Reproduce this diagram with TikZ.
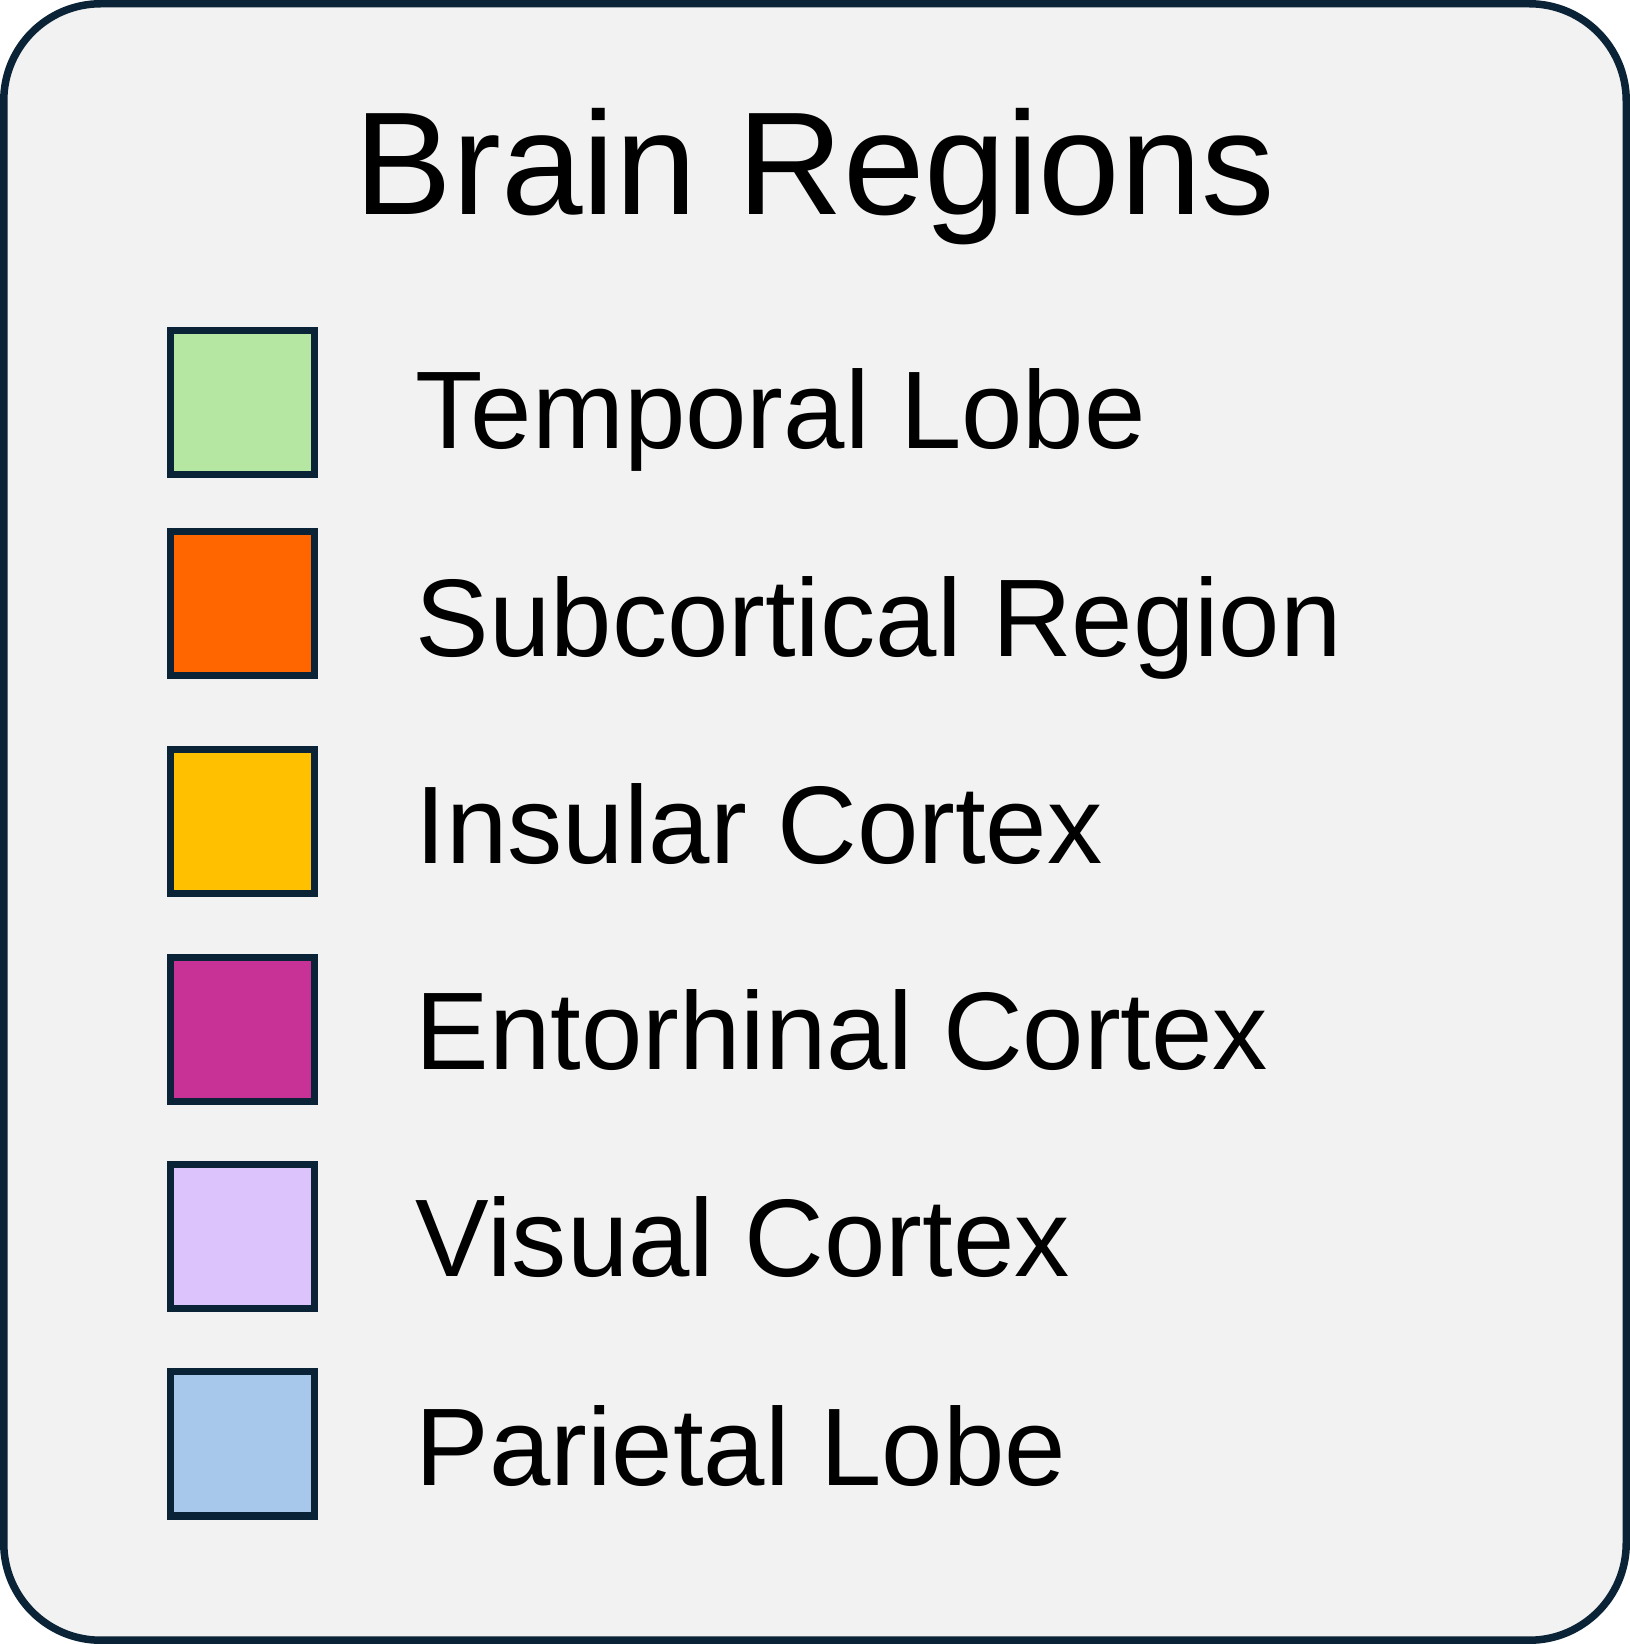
\documentclass[tikz,border=0pt]{standalone}
\usepackage{fontspec}
\setmainfont{Liberation Sans}
\usetikzlibrary{positioning}
\definecolor{framedark}{HTML}{0B2336}
\definecolor{panelgray}{HTML}{F2F2F2}
\definecolor{temporalgreen}{HTML}{B5E6A2}
\definecolor{subcortorange}{HTML}{FF6600}
\definecolor{insulargold}{HTML}{FFC000}
\definecolor{entomagenta}{HTML}{C83296}
\definecolor{visuallilac}{HTML}{DCC3FB}
\definecolor{parietalblue}{HTML}{A7C8EA}

\tikzset{
  swatch/.style={draw=framedark, line width=0.07cm, minimum size=1.44cm, inner sep=0},
  legtext/.style={anchor=base west, inner sep=0, font=\fontsize{31.4}{37}\selectfont}
}

\begin{document}
\begin{tikzpicture}
\useasboundingbox (0,0) rectangle (16.3,16.44);
% Panel
\draw[framedark, fill=panelgray, line width=0.075cm, rounded corners=0.97cm] (0.0375,0.0375) rectangle (16.2625,16.4025);
\node[anchor=base, inner sep=0, font=\fontsize{41.7}{49}\selectfont] (title) at (8.15,14.29) {Brain Regions};

% Legend entries
\node[swatch, fill=temporalgreen] (temporal) at (2.425,12.41) {};
\node[legtext] (temporallbl) at (4.15,11.95) {Temporal Lobe};
\node[swatch, fill=subcortorange] (subcort) at (2.425,10.40) {};
\node[legtext] (subcortlbl) at (4.15,9.87) {Subcortical Region};
\node[swatch, fill=insulargold] (insular) at (2.425,8.22) {};
\node[legtext] (insularlbl) at (4.15,7.80) {Insular Cortex};
\node[swatch, fill=entomagenta] (entorhinal) at (2.425,6.14) {};
\node[legtext] (entorhinallbl) at (4.15,5.74) {Entorhinal Cortex};
\node[swatch, fill=visuallilac] (visual) at (2.425,4.07) {};
\node[legtext] (visuallbl) at (4.15,3.67) {Visual Cortex};
\node[swatch, fill=parietalblue] (parietal) at (2.425,2.00) {};
\node[legtext] (parietallbl) at (4.15,1.59) {Parietal Lobe};
\end{tikzpicture}
\end{document}
